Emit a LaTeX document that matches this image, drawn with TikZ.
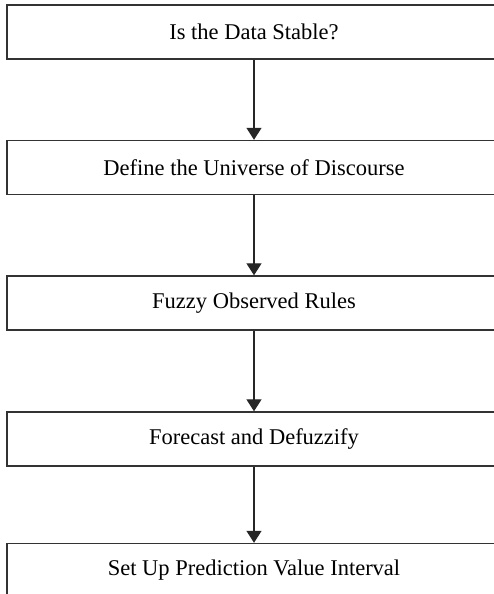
\documentclass[tikz,border=0pt]{standalone}
\usepackage{fontspec}
\setmainfont{Liberation Serif}
\usetikzlibrary{arrows.meta}
\begin{document}
\begin{tikzpicture}[x=1pt, y=-1pt,
  font=\fontsize{22.5}{27}\selectfont,
  stage/.style={draw=black!80, line width=1.4pt, align=center,
                minimum width=494pt, minimum height=54pt, inner sep=0pt},
  arr/.style={draw=black!85, line width=1.3pt,
              -{Triangle[width=15pt,length=12pt]}}
]
  \path[use as bounding box, clip] (0,0) rectangle (494,594);

  \node[stage] (s1) at (254, 32)    {Is the Data Stable?};
  \node[stage] (s2) at (254, 167.5) {Define the Universe of Discourse};
  \node[stage] (s3) at (254, 303)   {Fuzzy Observed Rules};
  \node[stage] (s4) at (254, 439)   {Forecast and Defuzzify};
  \node[stage] (s5) at (254, 570.5) {Set Up Prediction Value Interval};

  \draw[arr] (s1) -- (s2);
  \draw[arr] (s2) -- (s3);
  \draw[arr] (s3) -- (s4);
  \draw[arr] (s4) -- (s5);
\end{tikzpicture}
\end{document}
